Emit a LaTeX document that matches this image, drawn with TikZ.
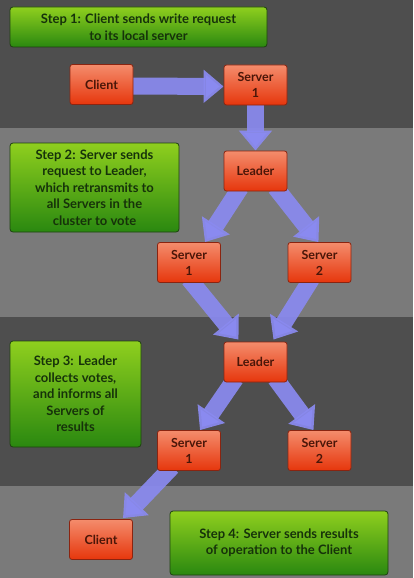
\documentclass[tikz,border=0pt]{standalone}
\usepackage{fontspec}
\setmainfont{Lato}
\usetikzlibrary{arrows.meta,calc}
\definecolor{bgdark}{HTML}{4E4E4E}
\definecolor{bglight}{HTML}{7A7A7A}
\definecolor{redtop}{HTML}{F48C6C}
\definecolor{redbot}{HTML}{E6360C}
\definecolor{redborder}{HTML}{8A2410}
\definecolor{redtext}{HTML}{4A1608}
\definecolor{greentop}{HTML}{8FCF1E}
\definecolor{greenbot}{HTML}{2A8810}
\definecolor{greenborder}{HTML}{1E4210}
\definecolor{greentext}{HTML}{16320A}
\definecolor{arrowcol}{HTML}{8A8AF0}
\pgfdeclarelayer{bg}
\pgfdeclarelayer{arr}
\pgfsetlayers{bg,arr,main}
\tikzset{
  redbox/.style={draw=redborder, line width=0.8pt, rounded corners=2.5pt,
    top color=redtop, bottom color=redbot, minimum width=63pt, minimum height=40pt,
    inner sep=0pt, align=center, text=redtext,
    font=\fontsize{12.5}{16}\selectfont\bfseries},
  greenbox/.style={draw=greenborder, line width=0.8pt, rounded corners=3pt,
    top color=greentop, bottom color=greenbot, inner sep=0pt, align=center,
    text=greentext, font=\fontsize{13}{16.5}\selectfont\bfseries},
  bigarrow/.style={draw=arrowcol, line width=17pt, draw opacity=0.92,
    -{Triangle[length=20pt,width=32pt]}}
}
\begin{document}
\begin{tikzpicture}[x=1pt,y=-1pt]
\begin{pgfonlayer}{bg}
  \fill[bgdark] (0,0) rectangle (413,128);
  \fill[bglight] (0,128) rectangle (413,317);
  \fill[bgdark] (0,317) rectangle (413,486);
  \fill[bglight] (0,486) rectangle (413,578);
\end{pgfonlayer}
\useasboundingbox (0,0) rectangle (413,578);

% step boxes
\node[greenbox, minimum width=257pt, minimum height=40pt] (st1) at (138.5,27)
  {Step 1: Client sends write request\\to its local server};
\node[greenbox, minimum width=169pt, minimum height=89pt] (st2) at (94.5,187.5)
  {Step 2: Server sends\\request to Leader,\\which retransmits to\\all Servers in the\\cluster to vote};
\node[greenbox, minimum width=131pt, minimum height=106pt] (st3) at (75.5,394)
  {Step 3: Leader\\collects votes,\\and informs all\\Servers of\\results};
\node[greenbox, minimum width=218pt, minimum height=64pt] (st4) at (279,543)
  {Step 4: Server sends results\\of operation to the Client};

% red boxes
\node[redbox] (c1) at (101.5,84.5) {Client};
\node[redbox] (s0) at (255.5,85) {Server\\1};
\node[redbox] (l1) at (255.5,171) {Leader};
\node[redbox] (s1a) at (189,262.5) {Server\\1};
\node[redbox] (s2a) at (319.5,262.5) {Server\\2};
\node[redbox] (l2) at (255.5,362) {Leader};
\node[redbox] (s1b) at (189,450.5) {Server\\1};
\node[redbox] (s2b) at (319.5,450.5) {Server\\2};
\node[redbox] (c2) at (101,539.5) {Client};

% arrows
\begin{pgfonlayer}{arr}
  \draw[bigarrow] ([xshift=-2pt,yshift=-1.5pt]c1.east) -- ([yshift=-1.5pt]s0.west);
  \draw[bigarrow] ([yshift=2pt]s0.south) -- (l1.north);
  \draw[bigarrow] ([xshift=-15pt,yshift=4pt]l1.south) -- ([xshift=16pt]s1a.north);
  \draw[bigarrow] ([xshift=20pt,yshift=4pt]l1.south) -- ([xshift=-1pt]s2a.north);
  \draw[bigarrow] ([yshift=4pt]s1a.south) -- ([xshift=-17pt,yshift=2pt]l2.north);
  \draw[bigarrow] ([xshift=-8pt,yshift=4pt]s2a.south) -- ([xshift=18pt,yshift=2pt]l2.north);
  \draw[bigarrow] ([xshift=-20pt,yshift=4pt]l2.south) -- ([xshift=11pt]s1b.north);
  \draw[bigarrow] ([xshift=20pt,yshift=4pt]l2.south) -- ([xshift=-6pt]s2b.north);
  \draw[bigarrow] ([xshift=-17pt,yshift=4pt]s1b.south) -- ([xshift=22pt,yshift=1pt]c2.north);
\end{pgfonlayer}
\end{tikzpicture}
\end{document}
